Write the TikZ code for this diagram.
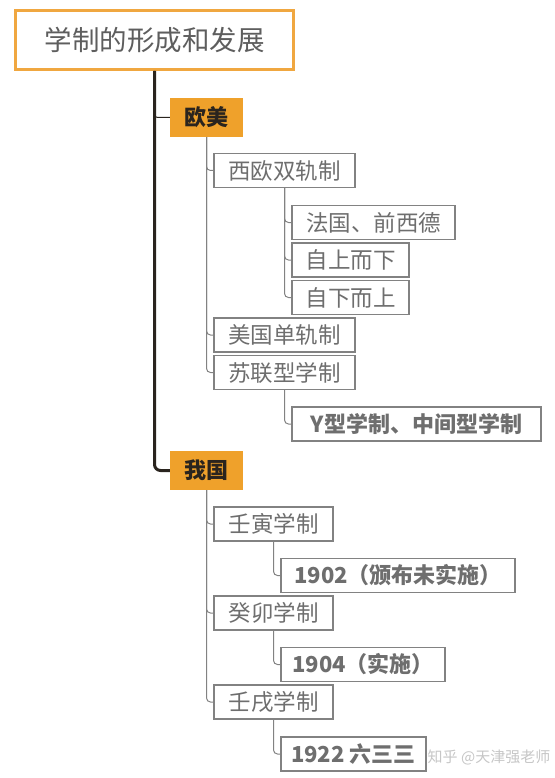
\documentclass[tikz,border=0pt]{standalone}
\usepackage{fontspec}
\setmainfont{Noto Sans CJK SC}
\usepackage{xcolor}
\usepackage{tikz}
\definecolor{xz-orange}{HTML}{EFA12B}
\definecolor{xz-frame}{HTML}{F0A740}
\definecolor{xz-gray}{HTML}{828282}
\definecolor{xz-text}{HTML}{6E6E6E}
\definecolor{xz-dark}{HTML}{2A241E}

\begin{document}
\begin{tikzpicture}[
    x=1pt, y=-1pt,
    topbox/.style={draw=xz-frame, line width=3pt, fill=white, minimum width=278pt,
                minimum height=59pt, text=xz-text!85!black,
                font=\fontsize{27.5}{30}\selectfont},
    catbox/.style={fill=xz-orange, minimum width=73pt, minimum height=39pt,
                text=xz-dark, font=\fontsize{22}{26}\selectfont\bfseries},
    leaf/.style={draw=xz-gray, line width=1.2pt, fill=white, inner xsep=3pt,
                inner ysep=1pt, minimum height=34pt, text=xz-text,
                font=\fontsize{22.5}{26}\selectfont},
    leafb/.style={leaf, font=\fontsize{22}{26}\selectfont\bfseries},
    trunk/.style={xz-dark, line width=3pt, rounded corners=6pt},
    twig/.style={xz-gray, line width=1pt, rounded corners=4pt},
  ]
    \useasboundingbox (0,0) rectangle (554,778);

    % Title
    \node[topbox] (title) at (154.5,40) {学制的形成和发展};

    % Categories
    \node[catbox] (oumei) at (206.5,117.5) {欧美};
    \node[catbox] (woguo) at (206.5,470.5) {我国};

    % Europe and America
    \node[leaf, minimum width=141pt] (xiou)    at (284.5,170.5) {西欧双轨制};
    \node[leaf, minimum width=163pt] (faguo)   at (373.5,222.5) {法国、前西德};
    \node[leaf, minimum width=117pt] (zishang) at (350.5,260)   {自上而下};
    \node[leaf, minimum width=117pt] (zixia)   at (350.5,297.5) {自下而上};
    \node[leaf, minimum width=141pt] (meiguo)  at (284.5,335)   {美国单轨制};
    \node[leaf, minimum width=141pt] (sulian)  at (284.5,372.5) {苏联型学制};
    \node[leafb, minimum width=249pt] (yxing)  at (416.5,424)   {Y型学制、中间型学制};

    % China
    \node[leaf, minimum width=119pt] (renyin) at (273.5,524)   {壬寅学制};
    \node[leafb, minimum width=234pt] (y1902) at (398,575.5)   {1902（颁布未实施）};
    \node[leaf, minimum width=119pt] (guimao) at (273.5,613)   {癸卯学制};
    \node[leafb, minimum width=164pt] (y1904) at (363,664.5)   {1904（实施）};
    \node[leaf, minimum width=119pt] (renxu)  at (273.5,702)   {壬戌学制};
    \node[leafb, minimum width=145pt] (y1922) at (353.5,754)   {1922 六三三};

    % Watermark
    \node[text=gray!45, font=\fontsize{15}{18}\selectfont, inner sep=0pt] (mark)
          at (489,757) {知乎 @天津强老师};

    % Trunk
    \draw[trunk] (title.south) |- (woguo.west);
    \draw[xz-dark, line width=1pt, rounded corners=3pt] (title.south) |- (oumei.west);

    % Branches
    \foreach \kid in {xiou, meiguo, sulian}
      \draw[twig] (oumei.south) |- (\kid.west);
    \foreach \kid in {faguo, zishang, zixia}
      \draw[twig] (xiou.south) |- (\kid.west);
    \draw[twig] (sulian.south) |- (yxing.west);
    \foreach \kid in {renyin, guimao, renxu}
      \draw[twig] (woguo.south) |- (\kid.west);
    \draw[twig] (renyin.south) |- (y1902.west);
    \draw[twig] (guimao.south) |- (y1904.west);
    \draw[twig] (renxu.south)  |- (y1922.west);
  \end{tikzpicture}
\end{document}
